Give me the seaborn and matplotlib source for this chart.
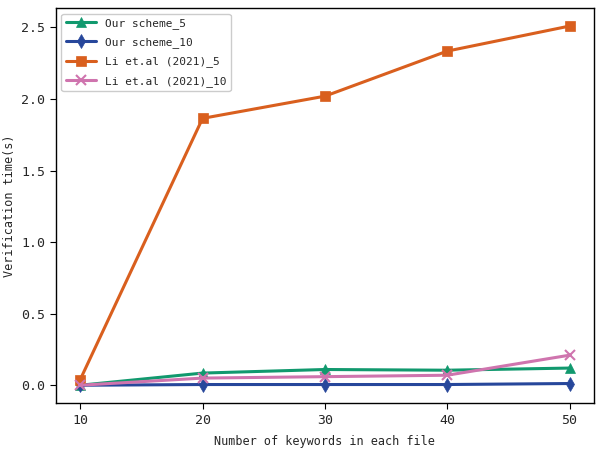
import matplotlib
matplotlib.use("Agg")
import matplotlib.pyplot as plt
import numpy as np
import pandas as pd
import seaborn as sns

keywords = [10, 20, 30, 40, 50]
our_5 = [0.0, 0.085, 0.11, 0.105, 0.12]
our_10 = [0.0, 0.005, 0.005, 0.005, 0.012]
li_5 = [0.04, 1.865, 2.02, 2.335, 2.51]
li_10 = [0.0, 0.05, 0.06, 0.07, 0.21]

names = ["Our scheme_5", "Our scheme_10", "Li et.al (2021)_5", "Li et.al (2021)_10"]
series = [our_5, our_10, li_5, li_10]
colors = ["#11996e", "#27479b", "#d95f1e", "#cf74ae"]
markers = ["^", "d", "s", "x"]

sns.set_style("ticks")
plt.rcParams['font.family'] = ['DejaVu Sans Mono', 'DejaVu Sans']

fig, ax = plt.subplots(figsize=(6, 4.5), dpi=100)
fig.subplots_adjust(left=0.093, right=0.99, top=0.982, bottom=0.104)

for name, vals, c, m in zip(names, series, colors, markers):
  df = pd.DataFrame({"x": keywords, "y": vals})
  sns.lineplot(data=df, x="x", y="y", ax=ax, color=c, marker=m, markersize=7.5,
               linewidth=2.2, label=name, markeredgecolor=c,
               markeredgewidth=1.5 if m == "x" else 0.5)

ax.set_xticks(keywords)
ax.set_yticks([0.0, 0.5, 1.0, 1.5, 2.0, 2.5])
ax.tick_params(labelsize=9.5, length=4, color="black")
for s in ax.spines.values():
  s.set_color("black")
  s.set_linewidth(1.0)
ax.set_xlabel("Number of keywords in each file", fontsize=8.5, labelpad=6)
ax.set_ylabel("Verification time(s)", fontsize=8.5)
ax.legend(loc="upper left", fontsize=8, handlelength=2.7, labelspacing=0.75,
          framealpha=1)

plt.savefig("out.png")
